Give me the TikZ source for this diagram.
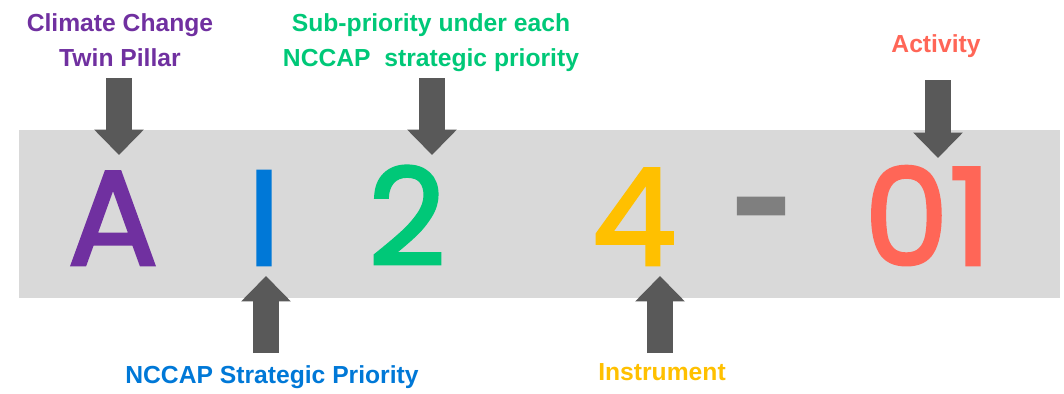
\documentclass[tikz,border=0pt]{standalone}
\usepackage{fontspec}
\usetikzlibrary{arrows.meta}
\newfontfamily\glyphfont{Poppins}[FakeBold=2.2]
\newfontfamily\labfont{Liberation Sans}
\definecolor{cpurple}{RGB}{112,48,160}
\definecolor{cblue}{RGB}{0,120,215}
\definecolor{cgreen}{RGB}{0,200,120}
\definecolor{corange}{RGB}{255,192,0}
\definecolor{cred}{RGB}{255,102,87}
\definecolor{cband}{RGB}{217,217,217}
\definecolor{carrow}{RGB}{89,89,89}
\definecolor{cdash}{RGB}{127,127,127}
\begin{document}
\begin{tikzpicture}[x=0.75pt,y=-0.75pt,
  glyph/.style={font=\glyphfont\fontsize{101}{101}\selectfont, inner sep=0pt, anchor=base},
  lab/.style={font=\labfont\bfseries\fontsize{18.5}{26}\selectfont, align=center, inner sep=0pt},
  blockarrow/.style={draw=carrow, line width=19pt, line cap=butt,
    -{Triangle[width=36pt,length=19pt]}}
]
\useasboundingbox (0,0) rectangle (1064,393);
\fill[cband] (19,130) rectangle (1060,298);

% glyphs
\node[glyph, text=cpurple] (gA) at (113,265) {A};
\node[glyph, text=cblue] (gI) at (264,265) {I};
\node[glyph, text=cgreen] (g2) at (407,265) {2};
\node[glyph, text=corange] (g4) at (634,265) {4};
\node[glyph, text=cdash] (gd) at (763,275) {\scalebox{0.85}[1.4]{-}};
\node[glyph, text=cred] (g01) at (928,265) {01};

% labels
\node[lab, text=cpurple] (lA) at (120,40) {Climate Change\\Twin Pillar};
\node[lab, text=cgreen] (l2) at (431,43) {Sub-priority under each\\NCCAP~~strategic priority};
\node[lab, text=cred] (l01) at (936,46) {Activity};
\node[lab, text=cblue] (lI) at (272,377) {NCCAP Strategic Priority};
\node[lab, text=corange] (l4) at (662,372) {Instrument};

% arrow end points
\coordinate (sA) at (119,78);  \coordinate (tA) at (119,155);
\coordinate (s2) at (432,78);  \coordinate (t2) at (432,155);
\coordinate (s01) at (938,80); \coordinate (t01) at (938,158);
\coordinate (sI) at (266,353); \coordinate (tI) at (266,276);
\coordinate (s4) at (660,353); \coordinate (t4) at (660,276);

\draw[blockarrow] (sA) -- (tA);
\draw[blockarrow] (s2) -- (t2);
\draw[blockarrow] (s01) -- (t01);
\draw[blockarrow] (sI) -- (tI);
\draw[blockarrow] (s4) -- (t4);
\end{tikzpicture}
\end{document}
